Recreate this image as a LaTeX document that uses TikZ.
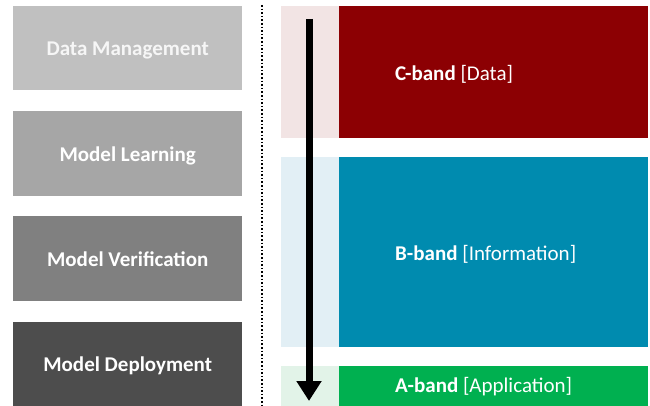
\documentclass[tikz,border=0pt]{standalone}
\usepackage{fontspec}
\setmainfont{Carlito}
\usetikzlibrary{arrows.meta}
\definecolor{gA}{RGB}{192,192,192}
\definecolor{gB}{RGB}{166,166,166}
\definecolor{gC}{RGB}{128,128,128}
\definecolor{gD}{RGB}{77,77,77}
\definecolor{txA}{RGB}{246,246,246}
\definecolor{redD}{RGB}{140,0,3}
\definecolor{redL}{RGB}{242,228,228}
\definecolor{bluD}{RGB}{0,139,175}
\definecolor{bluL}{RGB}{226,239,245}
\definecolor{grnD}{RGB}{0,176,80}
\definecolor{grnL}{RGB}{226,243,232}
\tikzset{
  stage/.style={draw=none, minimum width=229pt, inner sep=0pt, anchor=north west,
    font=\fontsize{21}{23}\selectfont\bfseries, text=white, text depth=0pt},
  bandtxt/.style={anchor=west, inner sep=0pt, text=white, font=\fontsize{21}{23}\selectfont},
  bandbox/.style={draw=none, inner sep=0pt, anchor=north west, minimum width=309pt},
  lightbox/.style={draw=none, inner sep=0pt, anchor=north west, minimum width=58pt},
}
\begin{document}
\begin{tikzpicture}[x=1pt,y=-1pt]
\useasboundingbox[fill=white] (0,0) rectangle (650,406);
% left stages
\node[stage, fill=gA, text=txA, minimum height=84pt] (s1) at (13,6) {Data Management};
\node[stage, fill=gB, minimum height=85pt] (s2) at (13,111) {Model Learning};
\node[stage, fill=gC, minimum height=85pt] (s3) at (13,216) {Model Verification};
\node[stage, fill=gD, minimum height=84pt] (s4) at (13,322) {Model Deployment};
% divider
\coordinate (d1) at (262,5);
\coordinate (d2) at (262,406);
\draw[dotted, line width=1.6pt] (d1) -- (d2);
% bands
\node[lightbox, fill=redL, minimum height=132pt] (cl) at (281,6) {};
\node[bandbox, fill=redD, minimum height=132pt] (cb) at (339,6) {};
\node[lightbox, fill=bluL, minimum height=190pt] (bl) at (281,157) {};
\node[bandbox, fill=bluD, minimum height=190pt] (bb) at (339,157) {};
\node[lightbox, fill=grnL, minimum height=40pt] (al) at (281,366) {};
\node[bandbox, fill=grnD, minimum height=40pt] (ab) at (339,366) {};
\node[bandtxt] (ct) at (395,74) {\textbf{C-band} [Data]};
\node[bandtxt] (bt) at (395,254) {\textbf{B-band} [Information]};
\node[bandtxt] (at) at (395,387) {\textbf{A-band} [Application]};
% arrow
\coordinate (a1) at (309,19);
\coordinate (a2) at (309,401);
\draw[line width=7pt, -{Triangle[width=24pt,length=20pt]}] (a1) -- (a2);
\end{tikzpicture}
\end{document}
